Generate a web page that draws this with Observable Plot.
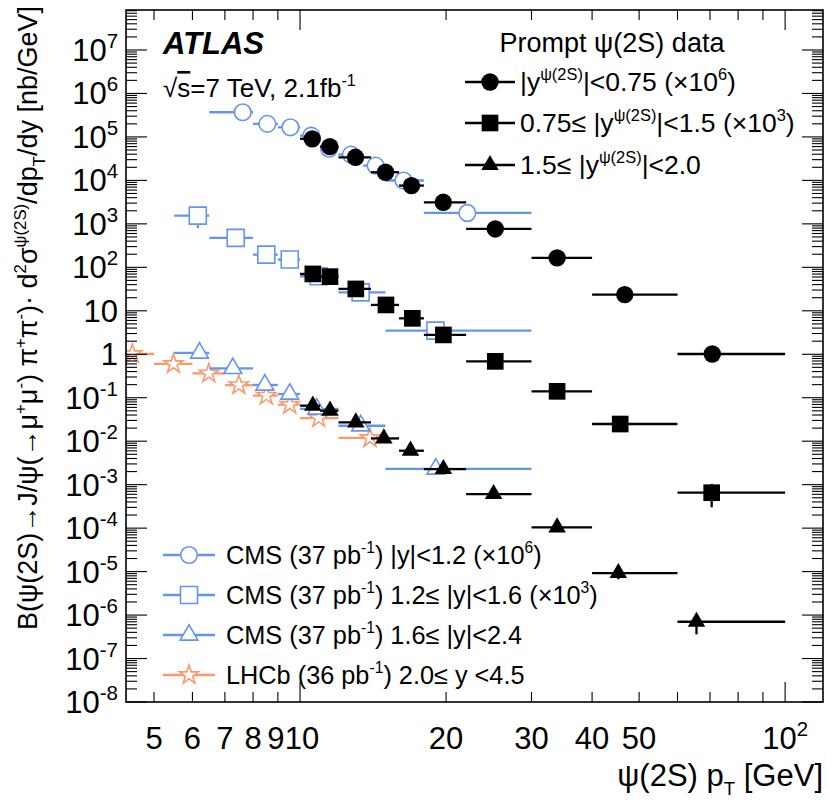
<!DOCTYPE html>
<html><head><meta charset="utf-8">
<script src="https://cdn.jsdelivr.net/npm/d3@7"></script>
<script src="https://cdn.jsdelivr.net/npm/@observablehq/plot@0.6"></script>
<style>
body{margin:0;background:#fff}
#chart svg{display:block}
</style>
</head><body><div id="chart"></div>
<script>
// ---------------- DATA (values as plotted, scale factors already applied) ----------------
// ATLAS prompt psi(2S), bins in pT [GeV]
const atlasLo = [10, 11, 12, 14, 16, 18, 22, 30, 40, 60];
const atlasHi = [11, 12, 14, 16, 18, 22, 30, 40, 60, 100];
// |y|<0.75 (x10^6)
const atlasCircX = [10.57, 11.49, 12.98, 14.97, 16.93, 19.69, 25.2, 33.8, 46.6, 70.6];
const atlasCircY = [9.27e4, 6.15e4, 3.49e4, 1.58e4, 7.8e3, 3.22e3, 785, 169, 24.2, 1.04];
const atlasCircErr = [0.08, 0.08, 0.08, 0.08, 0.08, 0.08, 0.1, 0.12, 0.15, 0.3];
// 0.75<=|y|<1.5 (x10^3)
const atlasSqX = [10.6, 11.5, 13.0, 15.0, 17.0, 19.7, 25.2, 33.8, 45.6, 70.4];
const atlasSqY = [72.4, 62.7, 32.7, 14.0, 6.88, 2.86, 0.705, 0.144, 0.0255, 6.7e-4];
const atlasSqErr = [0.08, 0.08, 0.08, 0.08, 0.08, 0.08, 0.1, 0.12, 0.2, 0.55];
// 1.5<=|y|<2.0
const atlasTriX = [10.6, 11.5, 13.0, 14.85, 16.85, 19.7, 25.0, 33.8, 45.2, 65.5];
const atlasTriY = [0.0675, 0.0516, 0.0278, 0.0119, 6.2e-3, 2.35e-3, 6.25e-4, 1.07e-4, 9.5e-6, 7.2e-7];
const atlasTriErr = [0.1, 0.1, 0.1, 0.1, 0.1, 0.1, 0.12, 0.15, 0.3, 0.5];

// CMS |y|<1.2 (x10^6)
const cmsCircLo = [6.5, 8, 9, 10, 11, 12, 13.5, 15, 18];
const cmsCircHi = [8, 9, 10, 11, 12, 13.5, 15, 18, 30];
const cmsCircX = [7.6, 8.54, 9.53, 10.52, 11.45, 12.7, 14.28, 16.3, 22.07];
const cmsCircY = [3.79e5, 2.05e5, 1.71e5, 1.1e5, 5.5e4, 4.03e4, 2.25e4, 1.02e4, 1.83e3];
const cmsCircErr = [0.1, 0.1, 0.1, 0.1, 0.1, 0.1, 0.1, 0.1, 0.1];
// CMS 1.2<=|y|<1.6 (x10^3)
const cmsSqLo = [5.5, 6.5, 8, 9, 10, 12, 15];
const cmsSqHi = [6.5, 8, 9, 10, 12, 15, 30];
const cmsSqX = [6.14, 7.35, 8.5, 9.5, 10.9, 13.3, 18.97];
const cmsSqY = [1.59e3, 488, 201, 155, 64, 27.3, 3.59];
const cmsSqErr = [0.5, 0.1, 0.1, 0.1, 0.1, 0.1, 0.1];
// CMS 1.6<=|y|<2.4
const cmsTriLo = [5.5, 6.5, 8, 9, 10, 12, 15];
const cmsTriHi = [6.5, 8, 9, 10, 12, 15, 30];
const cmsTriX = [6.19, 7.25, 8.44, 9.5, 10.8, 13.3, 19.0];
const cmsTriY = [1.1, 0.486, 0.202, 0.125, 0.0566, 0.0233, 2.36e-3];
const cmsTriErr = [0.1, 0.1, 0.1, 0.1, 0.1, 0.1, 0.1];
// LHCb 2.0<=y<4.5
const lhcbLo = [4, 5, 6, 7, 8, 9, 10, 12];
const lhcbHi = [5, 6, 7, 8, 9, 10, 12, 15];
const lhcbX = [4.5, 5.47, 6.47, 7.46, 8.5, 9.5, 10.9, 13.9];
const lhcbY = [1.04, 0.614, 0.373, 0.2, 0.115, 0.071, 0.035, 0.0122];
const lhcbErr = [0.1, 0.1, 0.1, 0.1, 0.1, 0.1, 0.1, 0.1];

// axis tick labels
const xTickVals = [5, 6, 7, 8, 9, 10, 20, 30, 40, 50, 100];
const xTickText = ["5", "6", "7", "8", "9", "10", "20", "30", "40", "50", "10^{2}"];
const yDecades = [7, 6, 5, 4, 3, 2, 1, 0, -1, -2, -3, -4, -5, -6, -7, -8];

// legends
const topLegendTitle = "Prompt ψ(2S) data";
const topLegendText = ["|y^{ψ(2S)}|<0.75 (×10^{6})", "0.75≤ |y^{ψ(2S)}|<1.5 (×10^{3})", "1.5≤ |y^{ψ(2S)}|<2.0"];
const botLegendText = ["CMS (37 pb^{-1}) |y|<1.2 (×10^{6})", "CMS (37 pb^{-1}) 1.2≤ |y|<1.6 (×10^{3})", "CMS (37 pb^{-1}) 1.6≤ |y|<2.4", "LHCb (36 pb^{-1}) 2.0≤ y <4.5"];
const xTitle = "ψ(2S) p_{T} [GeV]";
const yTitle = "B(ψ(2S)→J/ψ(→μ^{+}μ^{-}) π^{+}π^{-})· d^{2}σ^{ψ(2S)}/dp_{T}/dy [nb/GeV]";

// ---------------- STYLE ----------------
const BLUE = "#6495ed";
const ORANGE = "#fa9a6c";
const FONT = "'Liberation Sans', Arial, Helvetica, sans-serif";

function rows(lo, hi, xs, ys, errs) {
  return xs.map((x, i) => ({x, lo: lo[i], hi: hi[i], y: ys[i], ylo: ys[i] * (1 - errs[i]), yhi: ys[i] * (1 + errs[i])}));
}
const S = {
  atlasCirc: {data: rows(atlasLo, atlasHi, atlasCircX, atlasCircY, atlasCircErr), symbol: d3.symbolCircle, r: 8.7, fill: "black", stroke: "black", sw: 0, line: "black"},
  atlasSq: {data: rows(atlasLo, atlasHi, atlasSqX, atlasSqY, atlasSqErr), symbol: d3.symbolSquare, r: 9.4, fill: "black", stroke: "black", sw: 0, line: "black"},
  atlasTri: {data: rows(atlasLo, atlasHi, atlasTriX, atlasTriY, atlasTriErr), symbol: d3.symbolTriangle, r: 6.5, fill: "black", stroke: "black", sw: 0, line: "black"},
  cmsCirc: {data: rows(cmsCircLo, cmsCircHi, cmsCircX, cmsCircY, cmsCircErr), symbol: d3.symbolCircle, r: 8.3, fill: "white", stroke: BLUE, sw: 1.6, line: BLUE},
  cmsSq: {data: rows(cmsSqLo, cmsSqHi, cmsSqX, cmsSqY, cmsSqErr), symbol: d3.symbolSquare, r: 9.6, fill: "white", stroke: BLUE, sw: 1.6, line: BLUE},
  cmsTri: {data: rows(cmsTriLo, cmsTriHi, cmsTriX, cmsTriY, cmsTriErr), symbol: d3.symbolTriangle, r: 6.6, fill: "white", stroke: BLUE, sw: 1.6, line: BLUE},
  lhcb: {data: rows(lhcbLo, lhcbHi, lhcbX, lhcbY, lhcbErr), symbol: d3.symbolStar, r: 6.0, fill: "white", stroke: ORANGE, sw: 1.6, line: ORANGE}
};

function seriesMarks(s) {
  return [
    Plot.ruleY(s.data, {y: "y", x1: "lo", x2: "hi", stroke: s.line, strokeWidth: 2.3, clip: true}),
    Plot.ruleX(s.data, {x: "x", y1: "ylo", y2: "yhi", stroke: s.line, strokeWidth: 2.3, clip: true}),
    Plot.dot(s.data, {x: "x", y: "y", symbol: s.symbol, r: s.r, fill: s.fill, stroke: s.stroke, strokeWidth: s.sw, clip: true})
  ];
}

const W = 827, H = 802;
const chart = Plot.plot({
  width: W, height: H,
  marginLeft: 126, marginRight: 4, marginTop: 10, marginBottom: 100,
  x: {type: "log", domain: [4.377, 119.7], axis: null},
  y: {type: "log", domain: [1e-8, Math.pow(10, 7.92)], axis: null},
  style: {background: "white"},
  marks: [
    ...seriesMarks(S.lhcb),
    ...seriesMarks(S.cmsTri),
    ...seriesMarks(S.cmsSq),
    ...seriesMarks(S.cmsCirc),
    ...seriesMarks(S.atlasTri),
    ...seriesMarks(S.atlasSq),
    ...seriesMarks(S.atlasCirc)
  ]
});
document.getElementById("chart").appendChild(chart);

// ---------------- Axes, frame, legends ----------------
const svg = d3.select(chart);
const sx = chart.scale("x"), sy = chart.scale("y");
const X = v => sx.apply(v), Y = v => sy.apply(v);
const L = 126, R = W - 4, T = 10, B = H - 100;

function rich(g, str, x, y, size, opt = {}) {
  const sup = opt.sup || 0.62;
  const t = g.append("text").attr("x", x).attr("y", y)
    .attr("font-family", opt.family || FONT).attr("font-size", size)
    .attr("fill", "black").attr("text-anchor", opt.anchor || "start");
  if (opt.weight) t.attr("font-weight", opt.weight);
  if (opt.style) t.attr("font-style", opt.style);
  if (opt.transform) t.attr("transform", opt.transform);
  const parts = str.split(/(\^\{[^}]*\}|_\{[^}]*\}|\\over\{[^}]*\})/);
  let cur = 0;
  for (const p of parts) {
    if (!p) continue;
    let shift = 0, fs = size, txt = p, over = false;
    if (p.startsWith("^{")) { shift = -0.42 * size; fs = sup * size; txt = p.slice(2, -1); }
    else if (p.startsWith("_{")) { shift = 0.28 * size; fs = sup * size; txt = p.slice(2, -1); }
    else if (p.startsWith("\\over{")) { txt = p.slice(6, -1); over = true; }
    const ts = t.append("tspan").attr("dy", shift - cur).attr("font-size", fs).text(txt);
    if (over) ts.style("text-decoration", "overline");
    cur = shift;
  }
  return t;
}

const g = svg.append("g");
// frame
g.append("rect").attr("x", L).attr("y", T).attr("width", R - L).attr("height", B - T)
  .attr("fill", "none").attr("stroke", "black").attr("stroke-width", 1.6);

// y ticks (inside, both sides)
const yt = g.append("g").attr("stroke", "black").attr("stroke-width", 1.1);
for (let e = -8; e <= 7; e++) {
  for (let k = 1; k <= 9; k++) {
    const v = k * Math.pow(10, e);
    const yy = Y(v);
    if (yy < T || yy > B) continue;
    const len = k === 1 ? 21 : 11;
    yt.append("line").attr("x1", L).attr("x2", L + len).attr("y1", yy).attr("y2", yy);
    yt.append("line").attr("x1", R).attr("x2", R - len).attr("y1", yy).attr("y2", yy);
  }
}
// x ticks
const xt = g.append("g").attr("stroke", "black").attr("stroke-width", 1.1);
for (let e = 0; e <= 2; e++) {
  for (let k = 1; k <= 9; k++) {
    const v = k * Math.pow(10, e);
    if (v < 4.377 || v > 119.7) continue;
    const xx = X(v);
    const len = k === 1 ? 20 : 10;
    xt.append("line").attr("x1", xx).attr("x2", xx).attr("y1", B).attr("y2", B - len);
    xt.append("line").attr("x1", xx).attr("x2", xx).attr("y1", T).attr("y2", T + len);
  }
}
// y tick labels
yDecades.forEach(e => {
  const s = e === 0 ? "1" : e === 1 ? "10" : "10^{" + e + "}";
  rich(g, s, 118, Y(Math.pow(10, e)) + 11, 31, {anchor: "end", sup: 0.66});
});
// x tick labels (9 and 10 nudged apart slightly as in the reference's tight pair)
const xNudge = {9: -2, 10: 2};
xTickVals.forEach((v, i) => {
  rich(g, xTickText[i], X(v) + (xNudge[v] || 0), 749, 31, {anchor: "middle", sup: 0.66});
});
// axis titles
rich(g, xTitle, R, 786, 31, {anchor: "end", sup: 0.6});
rich(g, yTitle, 0, 0, 27, {anchor: "end", transform: "translate(37,6) rotate(-90)"});

// ATLAS label
rich(g, "ATLAS", 163, 54, 31, {weight: "bold", style: "italic"});
rich(g, "√\\over{s}=7 TeV, 2.1fb^{-1}", 163, 97, 26);

// top legend
rich(g, topLegendTitle, 612, 52, 27, {anchor: "middle"});
const topRows = [82, 123, 165];
[S.atlasCirc, S.atlasSq, S.atlasTri].forEach((s, i) => {
  const yy = topRows[i];
  g.append("line").attr("x1", 465).attr("x2", 515).attr("y1", yy).attr("y2", yy).attr("stroke", s.line).attr("stroke-width", 2.3);
  g.append("path").attr("d", d3.symbol(s.symbol, Math.PI * s.r * s.r)()).attr("transform", `translate(490,${yy})`)
    .attr("fill", s.fill).attr("stroke", s.stroke).attr("stroke-width", s.sw);
  rich(g, topLegendText[i], 520, yy + 9, 26.5);
});
// bottom legend
const botRows = [555, 595, 635, 675];
[S.cmsCirc, S.cmsSq, S.cmsTri, S.lhcb].forEach((s, i) => {
  const yy = botRows[i];
  g.append("line").attr("x1", 163).attr("x2", 215).attr("y1", yy).attr("y2", yy).attr("stroke", s.line).attr("stroke-width", 2.3);
  g.append("path").attr("d", d3.symbol(s.symbol, Math.PI * s.r * s.r)()).attr("transform", `translate(189,${yy})`)
    .attr("fill", s.fill).attr("stroke", s.stroke).attr("stroke-width", s.sw);
  rich(g, botLegendText[i], 226, yy + 9, 25.3);
});
</script>
</body></html>
